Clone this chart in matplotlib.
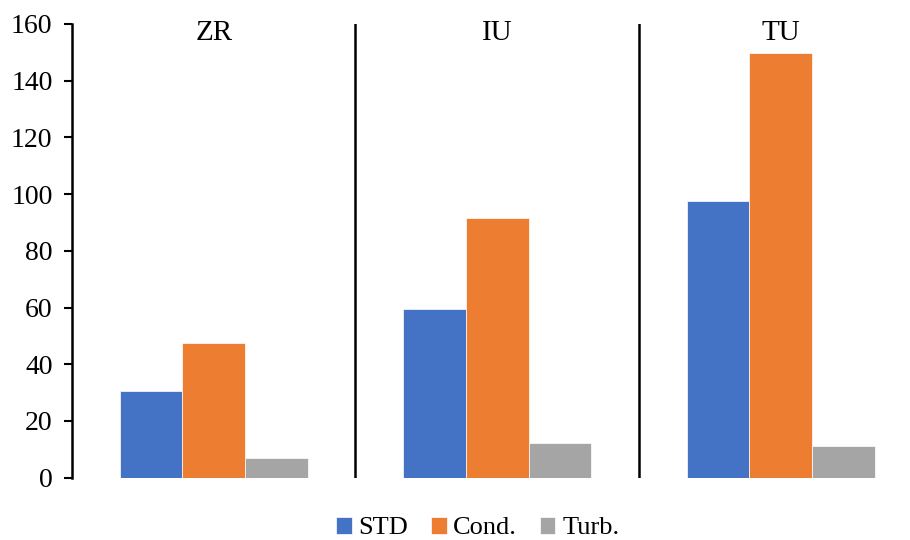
import matplotlib
matplotlib.use("Agg")
import matplotlib.pyplot as plt
import numpy as np

# data
groups = ["ZR", "IU", "TU"]
series = ["STD", "Cond.", "Turb."]
std_vals = [30.7, 59.4, 97.7]
cond_vals = [47.4, 91.5, 149.9]
turb_vals = [7.1, 12.1, 11.2]
colors = ["#4472C4", "#ED7D31", "#A5A5A5"]
yticks = [0, 20, 40, 60, 80, 100, 120, 140, 160]

plt.rcParams["font.family"] = ["Liberation Serif", "DejaVu Serif"]

fig = plt.figure(figsize=(9.1, 5.4), dpi=100)
ax = fig.add_axes([0.0791, 0.1154, 0.9346, 0.8402])

x = np.arange(len(groups))
w = 0.221
for i, (vals, name) in enumerate(zip([std_vals, cond_vals, turb_vals], series)):
    ax.bar(x + (i - 1) * w, vals, w, color=colors[i], label=name,
           edgecolor="white", linewidth=0.5)

# group separators
for sep in [0.5, 1.5]:
    ax.axvline(sep, color="black", linewidth=1.8)

# group names at the top
for xi, g in zip(x, groups):
    ax.text(xi, 156.8, g, ha="center", va="center", fontsize=21)

ax.set_xlim(-0.5, 2.5)
ax.set_ylim(0, 160)
ax.set_yticks(yticks)
ax.set_xticks([])
ax.tick_params(axis="y", labelsize=20, length=6, width=1.5, pad=8)
for s in ["top", "right", "bottom"]:
    ax.spines[s].set_visible(False)
ax.spines["left"].set_linewidth(1.8)

fig.legend(loc="center", bbox_to_anchor=(0.525, 0.022), ncol=3, frameon=False,
           fontsize=19, handlelength=0.6, handleheight=0.6, handletextpad=0.25,
           columnspacing=0.85)

fig.savefig("out.png", dpi=100)
